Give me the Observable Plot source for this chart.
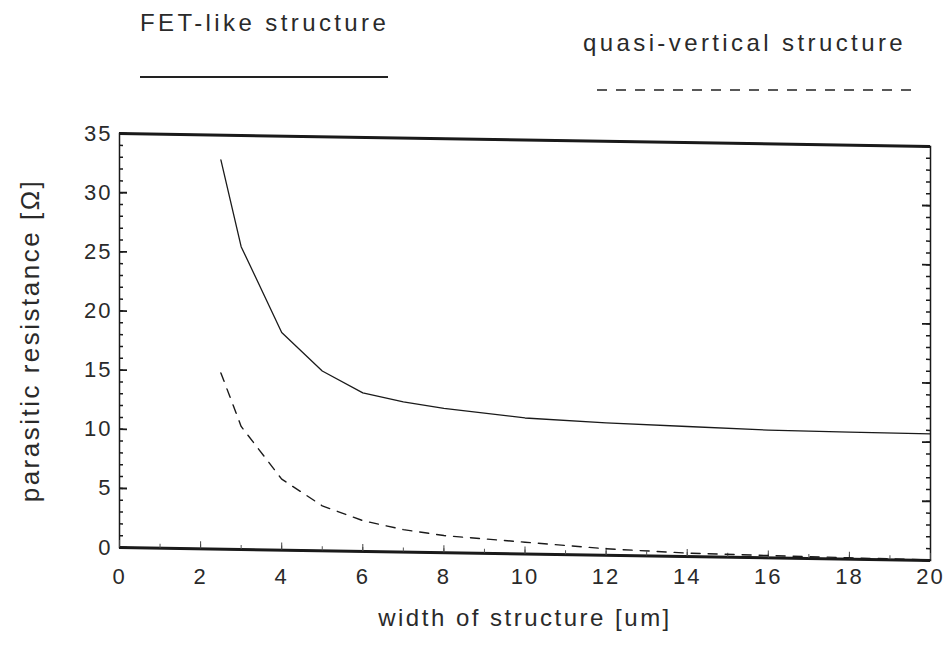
<!DOCTYPE html>
<html>
<head>
<meta charset="utf-8">
<script src="https://cdn.jsdelivr.net/npm/d3@7"></script>
<script src="https://cdn.jsdelivr.net/npm/@observablehq/plot@0.6"></script>
<style>
  body { margin: 0; background: #fff; font-family: "Liberation Sans", Arial, sans-serif; color: #222; }
  #legend { position: relative; width: 951px; height: 110px; }
  .lg-text { position: absolute; font-size: 24px; letter-spacing: 3.4px; white-space: nowrap; line-height: 1; color: #2a2a2a; }
  .lg-line { position: absolute; height: 0; }
</style>
</head>
<body>
<div id="legend"></div>
<div id="chart"></div>
<script>
// ---- data ----
const widthUm       = [2.5, 3, 4, 5, 6, 7, 8, 10, 12, 14, 16, 18, 20];
const fetLike       = [32.9, 25.6, 18.4, 15.2, 13.4, 12.7, 12.2, 11.5, 11.2, 11.0, 10.8, 10.75, 10.7];
const quasiVertical = [14.9, 10.4, 6.0, 3.8, 2.6, 1.9, 1.45, 1.0, 0.55, 0.3, 0.2, 0.12, 0.05];
const seriesNames   = ["FET-like structure", "quasi-vertical structure"];
const xTickLabels   = [0, 2, 4, 6, 8, 10, 12, 14, 16, 18, 20];
const yTickLabels   = [0, 5, 10, 15, 20, 25, 30, 35];
const xTitle        = "width of structure [um]";
const yTitle        = "parasitic resistance [Ω]";

// ---- legend (HTML, above the plot) ----
const legend = document.getElementById("legend");
function addText(txt, left, top) {
  const s = document.createElement("div");
  s.className = "lg-text"; s.textContent = txt;
  s.style.left = left + "px"; s.style.top = top + "px";
  legend.appendChild(s);
}
function addLine(left, top, w, style) {
  const l = document.createElement("div");
  l.className = "lg-line";
  l.style.left = left + "px"; l.style.top = top + "px"; l.style.width = w + "px";
  l.style.borderTop = style;
  legend.appendChild(l);
}
addText(seriesNames[0], 140, 11);
addLine(140, 76, 248, "2px solid #222");
addText(seriesNames[1], 583, 31);
(function(){
  const ns = "http://www.w3.org/2000/svg";
  const svg = document.createElementNS(ns, "svg");
  svg.setAttribute("width", 330); svg.setAttribute("height", 6);
  svg.style.position = "absolute"; svg.style.left = "597px"; svg.style.top = "87px";
  const ln = document.createElementNS(ns, "line");
  ln.setAttribute("x1", 0); ln.setAttribute("x2", 316); ln.setAttribute("y1", 3); ln.setAttribute("y2", 3);
  ln.setAttribute("stroke", "#222"); ln.setAttribute("stroke-width", 1.6);
  ln.setAttribute("stroke-dasharray", "10,9");
  svg.appendChild(ln); legend.appendChild(svg);
})();

// ---- plot ----
const W = 951, H = 542, mL = 119, mR = 21, mT = 23, mB = 105;
const innerW = W - mL - mR, innerH = H - mT - mB;
const fetData = widthUm.map((x, i) => ({x, y: fetLike[i]}));
const qvData  = widthUm.map((x, i) => ({x, y: quasiVertical[i]}));
const yMinor = d3.range(0, 36);
const xMinor = d3.range(0, 21);
const ink = "#1a1a1a";

const chart = Plot.plot({
  width: W, height: H,
  marginLeft: mL, marginRight: mR, marginTop: mT, marginBottom: mB,
  style: {fontFamily: "'Liberation Sans', Arial, sans-serif", color: "#2a2a2a", background: "#fff"},
  x: {domain: [0, 20]},
  y: {domain: [0, 35]},
  marks: [
    Plot.frame({stroke: ink, strokeWidth: 1.5}),
    Plot.ruleY([0, 35], {stroke: ink, strokeWidth: 3}),
    Plot.tickY(yMinor, {y: d => d, stroke: ink, strokeWidth: 1.5, insetRight: innerW - 4}),
    Plot.tickY(yTickLabels, {y: d => d, stroke: ink, strokeWidth: 1.8, insetRight: innerW - 8}),
    Plot.tickY(yMinor, {y: d => d, stroke: ink, strokeWidth: 1.5, insetLeft: innerW - 4}),
    Plot.tickY(yTickLabels, {y: d => d, stroke: ink, strokeWidth: 1.8, insetLeft: innerW - 8}),
    Plot.tickX(xMinor, {x: d => d, stroke: "#555", strokeWidth: 1, insetTop: innerH - 4}),
    Plot.tickX(xTickLabels, {x: d => d, stroke: "#444", strokeWidth: 1, insetTop: innerH - 7}),
    Plot.line(fetData, {x: "x", y: "y", stroke: ink, strokeWidth: 1.3}),
    Plot.line(qvData, {x: "x", y: "y", stroke: ink, strokeWidth: 1.4, strokeDasharray: "9,8"}),
    Plot.axisX({ticks: xTickLabels, tickSize: 0, tickPadding: 21, fontSize: 22, label: null}),
    Plot.axisY({ticks: yTickLabels, tickSize: 0, tickPadding: 7, fontSize: 22, label: null}),
    Plot.text([xTitle], {frameAnchor: "bottom", dy: 78, fontSize: 24, fill: "#2a2a2a", textAnchor: "middle"}),
    Plot.text([yTitle], {frameAnchor: "left", dx: -89, rotate: -90, fontSize: 26, fill: "#2a2a2a", textAnchor: "middle"})
  ]
});

// slight shear of the plotting frame, as in the scanned original
const k = 13 / innerW;
const svg = chart.tagName.toLowerCase() === "svg" ? chart : chart.querySelector("svg");
const shearLabels = ["frame", "rule", "tick", "line"];
Array.from(svg.children).forEach(g => {
  const lab = g.getAttribute && g.getAttribute("aria-label");
  if (shearLabels.includes(lab)) {
    const wrap = document.createElementNS("http://www.w3.org/2000/svg", "g");
    wrap.setAttribute("transform", `matrix(1,${k},0,1,0,${-mL * k})`);
    svg.insertBefore(wrap, g);
    wrap.appendChild(g);
  }
});
svg.querySelectorAll('g[aria-label="x-axis tick label"], g[aria-label="y-axis tick label"]').forEach(g => g.style.letterSpacing = "2px");
svg.querySelectorAll('g[aria-label="text"]').forEach(g => g.style.letterSpacing = "2.5px");

document.getElementById("chart").appendChild(chart);
</script>
</body>
</html>
